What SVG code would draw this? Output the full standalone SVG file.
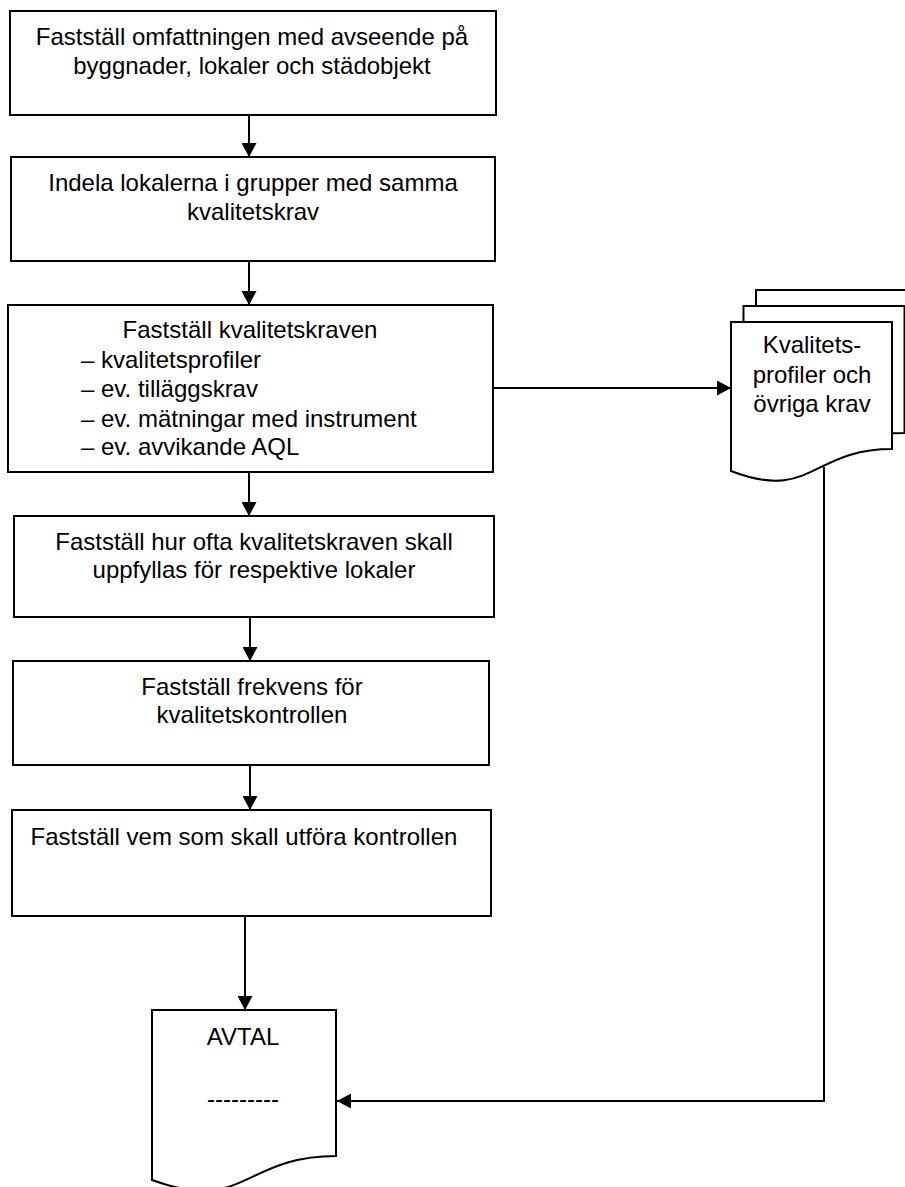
<svg xmlns="http://www.w3.org/2000/svg" width="905" height="1187" viewBox="0 0 905 1187">
<style>
.box{fill:#fff;stroke:#000;stroke-width:2}
.doc{fill:#fff;stroke:#000;stroke-width:2;stroke-linejoin:miter}
.t{font-family:"Liberation Sans",Arial,sans-serif;font-size:24px;fill:#000}
.c{text-anchor:middle}
.ln{fill:none;stroke:#000;stroke-width:2}
</style>
<defs>
<marker id="ah" markerWidth="14" markerHeight="15" refX="14" refY="7.5" orient="auto" markerUnits="userSpaceOnUse">
<path d="M0,0 L14,7.5 L0,15 Z" fill="#000"/>
</marker>
</defs>
<rect width="905" height="1187" fill="#fff"/>

<g id="n1">
<rect class="box" x="10" y="11" width="486" height="104"/>
<text class="t c" x="252" y="45">Fastställ omfattningen med avseende på</text>
<text class="t c" x="252" y="74">byggnader, lokaler och städobjekt</text>
</g>

<g id="n2">
<rect class="box" x="11" y="157" width="484" height="104"/>
<text class="t c" x="253" y="191">Indela lokalerna i grupper med samma</text>
<text class="t c" x="253" y="220">kvalitetskrav</text>
</g>

<g id="n3">
<rect class="box" x="8" y="305" width="485" height="167"/>
<text class="t c" x="250" y="338">Fastställ kvalitetskraven</text>
<text class="t" x="81" y="368">– kvalitetsprofiler</text>
<text class="t" x="81" y="397">– ev. tilläggskrav</text>
<text class="t" x="81" y="427">– ev. mätningar med instrument</text>
<text class="t" x="81" y="455">– ev. avvikande AQL</text>
</g>

<g id="n4">
<rect class="box" x="14" y="516" width="480" height="101"/>
<text class="t c" x="254" y="550">Fastställ hur ofta kvalitetskraven skall</text>
<text class="t c" x="254" y="578">uppfyllas för respektive lokaler</text>
</g>

<g id="n5">
<rect class="box" x="13" y="661" width="476" height="104"/>
<text class="t c" x="252" y="695">Fastställ frekvens för</text>
<text class="t c" x="252" y="723">kvalitetskontrollen</text>
</g>

<g id="n6">
<rect class="box" x="12" y="810" width="479" height="106"/>
<text class="t c" x="244" y="845">Fastställ vem som skall utföra kontrollen</text>
</g>

<g id="docs">
<path class="doc" d="M756,290 H917 V417 C836.5,417 836.5,468 756,438 Z"/>
<path class="doc" d="M743.5,306 H904.5 V433 C824,433 824,484 743.5,454 Z"/>
<path class="doc" d="M731,322 H892 V449 C811.5,449 811.5,502 731,471 Z"/>
<text class="t c" x="812" y="353">Kvalitets-</text>
<text class="t c" x="812" y="383">profiler och</text>
<text class="t c" x="812" y="412">övriga krav</text>
</g>

<g id="avtal">
<path class="doc" d="M152,1010 H336 V1156 C244,1156 244,1214 152,1180 Z"/>
<text class="t c" x="243" y="1045">AVTAL</text>
<text class="t c" x="243" y="1107">---------</text>
</g>

<g id="connectors">
<line class="ln" x1="249" y1="115" x2="249" y2="157" marker-end="url(#ah)"/>
<line class="ln" x1="249" y1="261" x2="249" y2="305" marker-end="url(#ah)"/>
<line class="ln" x1="249" y1="472" x2="249" y2="516" marker-end="url(#ah)"/>
<line class="ln" x1="250" y1="617" x2="250" y2="661" marker-end="url(#ah)"/>
<line class="ln" x1="250" y1="765" x2="250" y2="810" marker-end="url(#ah)"/>
<line class="ln" x1="245" y1="916" x2="245" y2="1010" marker-end="url(#ah)"/>
<line class="ln" x1="493" y1="388" x2="731" y2="388" marker-end="url(#ah)"/>
<polyline class="ln" points="824,467 824,1101 337,1101" marker-end="url(#ah)"/>
</g>
</svg>
